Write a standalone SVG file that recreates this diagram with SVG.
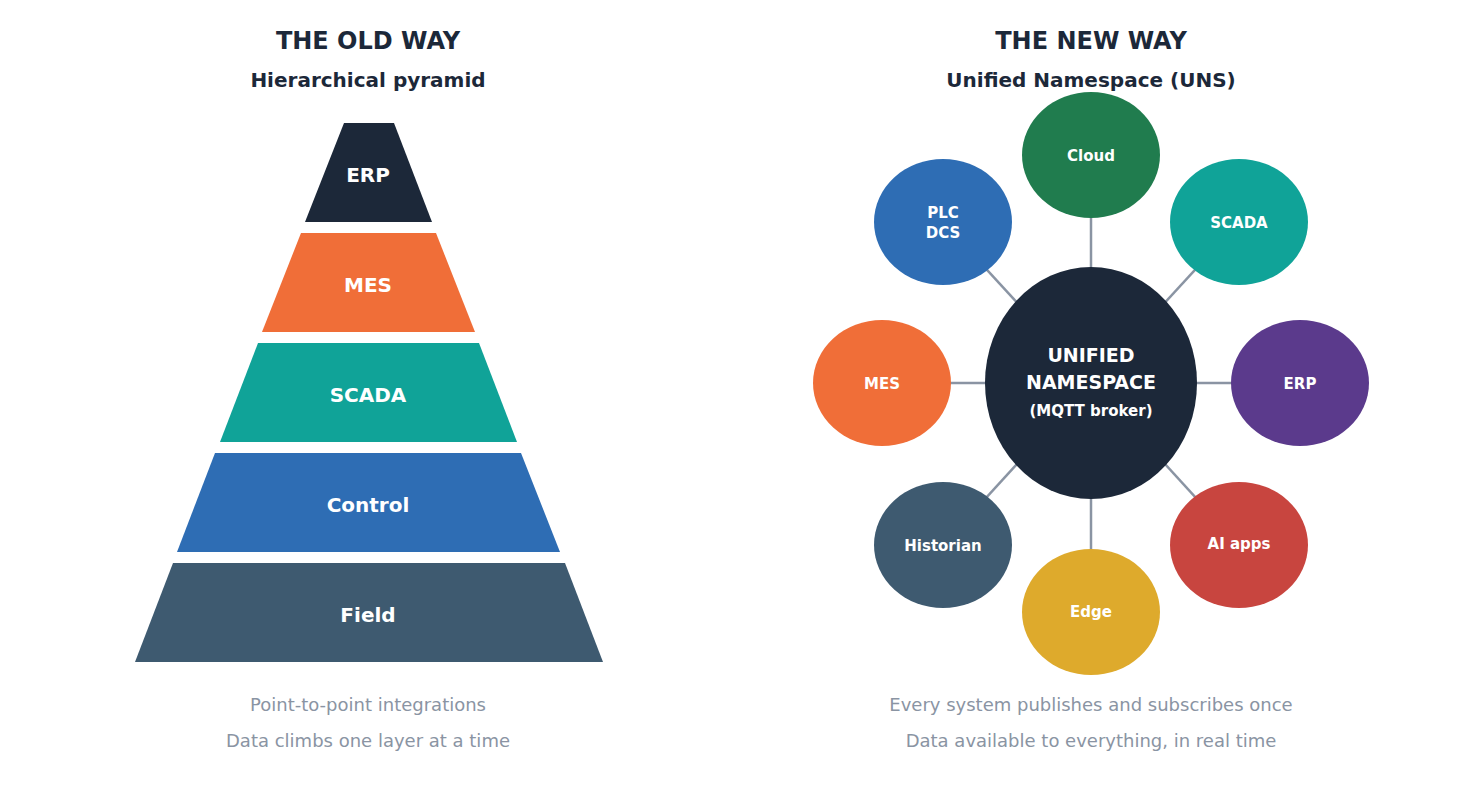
<svg xmlns="http://www.w3.org/2000/svg" width="1460" height="790" viewBox="0 0 1460 790">
<style>
text{font-family:"DejaVu Sans",sans-serif;text-anchor:middle;font-weight:bold}
.t{font-size:24px;fill:#1c2839}
.s{font-size:20px;fill:#1c2839}
.p{font-size:20px;fill:#fff}
.c{font-size:15px;fill:#fff}
.f{font-size:18px;fill:#8a94a3;font-weight:normal}
.e{stroke:#8a94a3;stroke-width:2.5}
</style>
<rect width="1460" height="790" fill="#fff"/>
<text class="t" x="368" y="49">THE OLD WAY</text>
<text class="s" x="368" y="87">Hierarchical pyramid</text>
<text class="t" x="1091" y="49">THE NEW WAY</text>
<text class="s" x="1091" y="87">Unified Namespace (UNS)</text>
<g id="erp-layer"><polygon points="344,123 394,123 432,222 305,222" fill="#1c2839"/><text class="p" x="368" y="182">ERP</text></g>
<g id="mes-layer"><polygon points="301,233 436,233 475,332 262,332" fill="#f06e38"/><text class="p" x="368" y="292">MES</text></g>
<g id="scada-layer"><polygon points="258,343 479,343 517,442 220,442" fill="#10a398"/><text class="p" x="368" y="402">SCADA</text></g>
<g id="control-layer"><polygon points="215,453 521,453 560,552 177,552" fill="#2e6db4"/><text class="p" x="368" y="512">Control</text></g>
<g id="field-layer"><polygon points="173,563 565,563 603,662 135,662" fill="#3e5a70"/><text class="p" x="368" y="622">Field</text></g>
<text class="f" x="368" y="711">Point-to-point integrations</text>
<text class="f" x="368" y="747">Data climbs one layer at a time</text>
<g id="connectors">
<line class="e" x1="1091" y1="383" x2="1091" y2="155"/>
<line class="e" x1="1091" y1="383" x2="943" y2="222"/>
<line class="e" x1="1091" y1="383" x2="1239" y2="222"/>
<line class="e" x1="1091" y1="383" x2="882" y2="383"/>
<line class="e" x1="1091" y1="383" x2="1300" y2="383"/>
<line class="e" x1="1091" y1="383" x2="943" y2="545"/>
<line class="e" x1="1091" y1="383" x2="1239" y2="545"/>
<line class="e" x1="1091" y1="383" x2="1091" y2="612"/>
</g>
<g id="uns"><ellipse cx="1091" cy="383" rx="106" ry="116" fill="#1c2839"/>
<text class="p" x="1091" y="362" style="font-size:19px">UNIFIED</text>
<text class="p" x="1091" y="389" style="font-size:19px">NAMESPACE</text>
<text class="c" x="1091" y="416">(MQTT broker)</text></g>
<g id="cloud"><ellipse cx="1091" cy="155" rx="69" ry="63" fill="#207c4e"/><text class="c" x="1091" y="161">Cloud</text></g>
<g id="plc"><ellipse cx="943" cy="222" rx="69" ry="63" fill="#2e6db4"/><text class="c" x="943" y="218">PLC</text><text class="c" x="943" y="238">DCS</text></g>
<g id="scada"><ellipse cx="1239" cy="222" rx="69" ry="63" fill="#10a398"/><text class="c" x="1239" y="228">SCADA</text></g>
<g id="mes"><ellipse cx="882" cy="383" rx="69" ry="63" fill="#f06e38"/><text class="c" x="882" y="389">MES</text></g>
<g id="erp"><ellipse cx="1300" cy="383" rx="69" ry="63" fill="#5b3a8c"/><text class="c" x="1300" y="389">ERP</text></g>
<g id="historian"><ellipse cx="943" cy="545" rx="69" ry="63" fill="#3e5a70"/><text class="c" x="943" y="551">Historian</text></g>
<g id="ai"><ellipse cx="1239" cy="545" rx="69" ry="63" fill="#c8453f"/><text class="c" x="1239" y="549">AI apps</text></g>
<g id="edge"><ellipse cx="1091" cy="612" rx="69" ry="63" fill="#deaa2c"/><text class="c" x="1091" y="617">Edge</text></g>
<text class="f" x="1091" y="711">Every system publishes and subscribes once</text>
<text class="f" x="1091" y="747">Data available to everything, in real time</text>
</svg>
